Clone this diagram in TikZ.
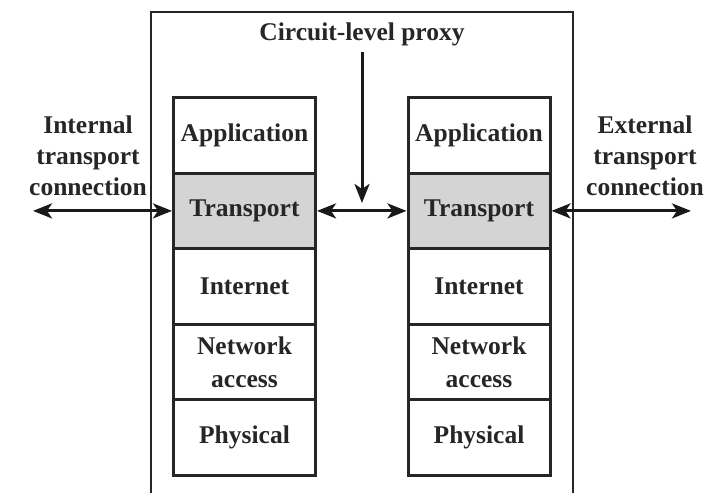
\documentclass[tikz,border=0pt]{standalone}
\usepackage{fontspec}
\setmainfont{Liberation Serif}
\usetikzlibrary{arrows.meta}
\definecolor{layergray}{HTML}{D4D4D4}
\begin{document}
\begin{tikzpicture}[x=1pt,y=-1pt,
  layer/.style={draw=black!85, line width=3pt, minimum width=142pt, minimum height=75.6pt, inner sep=0pt, align=center, font=\fontsize{25.5}{33}\selectfont\bfseries, text=black!85},
  lbl/.style={font=\fontsize{25.5}{31}\selectfont\bfseries, align=center, text=black!85},
  conn/.style={line width=3pt, draw=black!90, {Stealth[length=19pt,width=15pt,inset=5pt]}-{Stealth[length=19pt,width=15pt,inset=5pt]}},
  down/.style={line width=3pt, draw=black!90, -{Stealth[length=19pt,width=15pt,inset=5pt]}}]
\useasboundingbox (0,0) rectangle (707,493);
\fill[white] (0,0) rectangle (707,493);
% outer proxy box
\draw[line width=2pt, black!85] (151,493) -- (151,12) -- (573,12) -- (573,493);
\node[lbl] (title) at (362,34) {Circuit-level proxy};
% left stack
\node[layer] (la) at (244.5,135.3) {Application};
\node[layer, fill=layergray] (lt) at (244.5,210.9) {Transport};
\node[layer] (li) at (244.5,286.5) {Internet};
\node[layer] (ln) at (244.5,362.1) {Network\\access};
\node[layer] (lp) at (244.5,437.7) {Physical};
% right stack
\node[layer] (ra) at (479,135.3) {Application};
\node[layer, fill=layergray] (rt) at (479,210.9) {Transport};
\node[layer] (ri) at (479,286.5) {Internet};
\node[layer] (rn) at (479,362.1) {Network\\access};
\node[layer] (rp) at (479,437.7) {Physical};
% side labels
\node[lbl] (il) at (88,156) {Internal\\transport\\connection};
\node[lbl] (el) at (645,156) {External\\transport\\connection};
\coordinate (lend) at (33,210.9);
\coordinate (rend) at (691,210.9);
\coordinate (vtop) at (362,52);
\coordinate (vbot) at (362,203);
% connectors
\draw[conn] (lend) -- (lt.west);
\draw[conn] (rt.east) -- (rend);
\draw[conn] (lt.east) -- (rt.west);
\draw[down] (vtop) -- (vbot);
\end{tikzpicture}
\end{document}
